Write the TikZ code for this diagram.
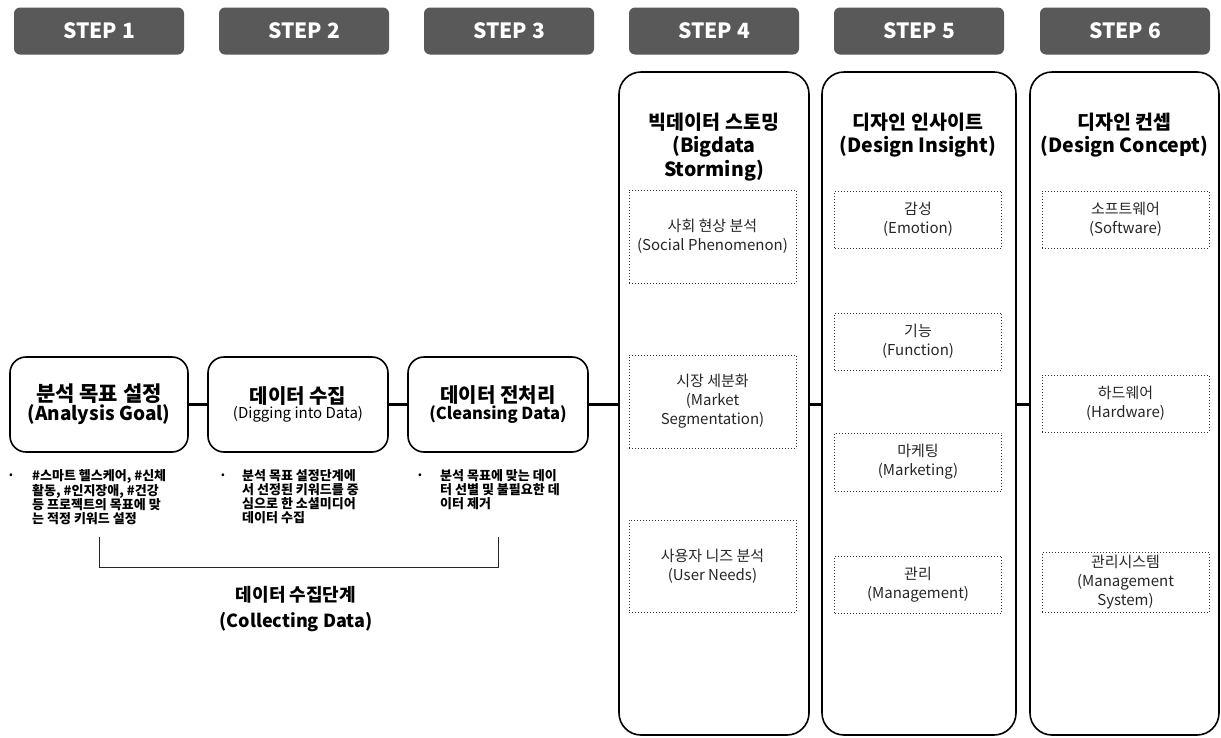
\documentclass[tikz,border=0pt]{standalone}
\usepackage{fontspec}
\setmainfont{Noto Sans CJK KR}
\usetikzlibrary{positioning,calc}
\definecolor{stepgray}{HTML}{595959}

\begin{document}
\begin{tikzpicture}[x=1pt,y=-1pt,
 stepbox/.style={fill=stepgray,rounded corners=6pt,minimum width=170pt,minimum height=47pt,text=white,font=\fontsize{21}{24}\selectfont\bfseries},
 goal/.style={draw,line width=1.6pt,rounded corners=16pt,minimum height=95pt,align=center},
 col/.style={draw,line width=1.6pt,rounded corners=22pt,minimum height=663pt},
 item/.style={draw=black!80,dotted,line width=1pt,minimum width=167pt,align=center,text=black!85,font=\fontsize{15}{19}\selectfont},
 note/.style={align=left,anchor=north west,inner sep=0pt,font=\fontsize{13}{14}\selectfont\bfseries},
 head/.style={align=center,font=\fontsize{19.5}{23.5}\selectfont\bfseries},
 conn/.style={line width=2.4pt}]
\useasboundingbox (0,0) rectangle (1221,737);

% step headers
\foreach \i/\x in {1/99,2/304,3/509,4/714,5/919,6/1125}
  \node[stepbox] (s\i) at (\x,31) {STEP \i};

% data collection boxes
\node[goal,minimum width=178pt] (g1) at (99,404.5) {{\fontsize{21}{27}\selectfont\bfseries 분석 목표 설정}\\{\fontsize{19}{22}\selectfont\bfseries (Analysis Goal)}};
\node[goal,minimum width=180pt] (g2) at (298,404.5) {{\fontsize{20}{27}\selectfont\bfseries 데이터 수집}\\{\fontsize{15}{18}\selectfont (Digging into Data)}};
\node[goal,minimum width=180pt] (g3) at (498,404.5) {{\fontsize{20}{27}\selectfont\bfseries 데이터 전처리}\\{\fontsize{16.5}{20}\selectfont\bfseries (Cleansing Data)}};

% notes under the boxes
\node[note] (n1) at (32,469) {\#스마트 헬스케어, \#신체\\활동, \#인지장애, \#건강\\등 프로젝트의 목표에 맞\\는 적정 키워드 설정};
\node[note] (n2) at (242,469) {분석 목표 설정단계에\\서 선정된 키워드를 중\\심으로 한 소셜미디어\\데이터 수집};
\node[note] (n3) at (440,469) {분석 목표에 맞는 데이\\터 선별 및 불필요한 데\\이터 제거};
\foreach \n/\x in {n1/11,n2/223,n3/420}
  \node[font=\fontsize{11}{13}\selectfont] (d\n) at (\x,476) {•};

% bracket
\coordinate (brL) at (g1 |- 0,537);
\coordinate (brR) at (g3 |- 0,537);
\draw[line width=1pt,black!85] (brL) -- ($(brL)+(0,30)$) -| (brR);
\node[align=center,font=\fontsize{18}{26}\selectfont\bfseries] (lab) at (296,609) {데이터 수집단계\\(Collecting Data)};

% result columns
\node[col,minimum width=190pt] (c4) at (714,403.5) {};
\node[col,minimum width=194pt] (c5) at (919,403.5) {};
\node[col,minimum width=189pt] (c6) at (1124.5,403.5) {};
\node[head] (h4) at (714,147) {빅데이터 스토밍\\(Bigdata\\Storming)};
\node[head] (h5) at (918,135) {디자인 인사이트\\(Design Insight)};
\node[head] (h6) at (1124.5,135) {디자인 컨셉\\(Design Concept)};

\node[item,minimum height=93pt] (a1) at (712.5,236.5) {사회 현상 분석\\(Social Phenomenon)};
\node[item,minimum height=93pt] (a2) at (712.5,401.5) {시장 세분화\\(Market\\Segmentation)};
\node[item,minimum height=92pt] (a3) at (712.5,566) {사용자 니즈 분석\\(User Needs)};

\node[item,minimum height=57pt] (b1) at (918,219.5) {감성\\(Emotion)};
\node[item,minimum height=57pt] (b2) at (918,341.5) {기능\\(Function)};
\node[item,minimum height=58pt] (b3) at (918,462) {마케팅\\(Marketing)};
\node[item,minimum height=57pt] (b4) at (918,584.5) {관리\\(Management)};

\node[item,minimum height=57pt] (e1) at (1125.5,219.5) {소프트웨어\\(Software)};
\node[item,minimum height=57pt] (e2) at (1125.5,403.5) {하드웨어\\(Hardware)};
\node[item,minimum height=57pt] (e3) at (1125.5,582.5) {관리시스템\\(Management\\System)};

% connectors
\draw[conn] (g1) -- (g2);
\draw[conn] (g2) -- (g3);
\draw[conn] (g3.east) -- (g3.east -| c4.west);
\draw[conn] (c4.east |- g3.east) -- (g3.east -| c5.west);
\draw[conn] (c5.east |- g3.east) -- (g3.east -| c6.west);
\end{tikzpicture}
\end{document}
